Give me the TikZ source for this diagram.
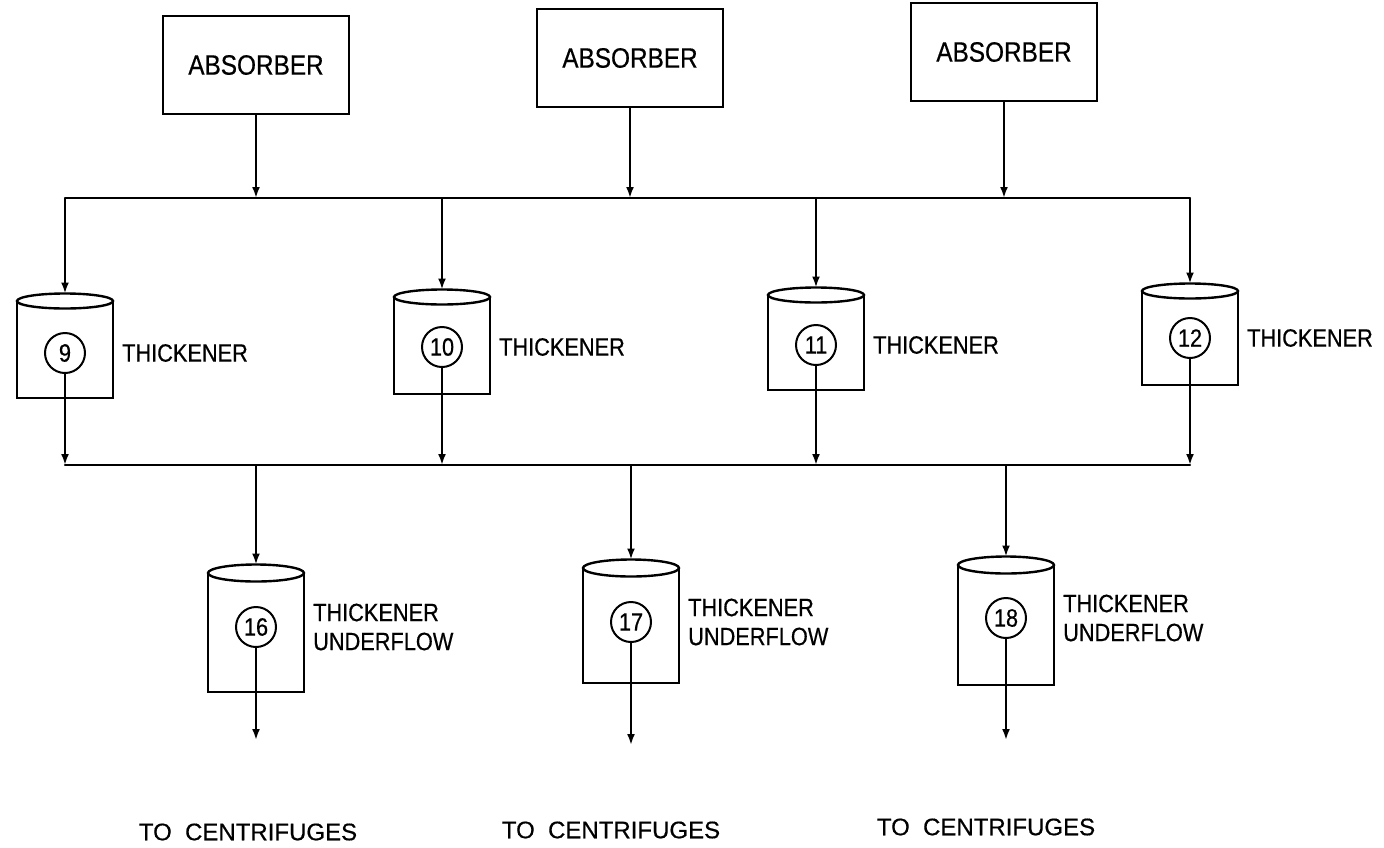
\documentclass[tikz,border=0pt]{standalone}
\usepackage{fontspec}
\setmainfont{Liberation Sans}
\newfontfamily\condfont{Liberation Sans}[FakeStretch=0.87,FakeBold=0.5]
\newfontfamily\widefont{Liberation Sans}[FakeBold=0.5]
\usetikzlibrary{arrows.meta}
\tikzset{
  ln/.style={line width=2.4pt, line cap=round},
  flow/.style={line width=2.4pt, -{Latex[length=11pt,width=8pt]}},
  absorber/.style={draw, line width=2.4pt, minimum width=186pt, minimum height=98pt,
    inner sep=0pt, font=\condfont\fontsize{28}{30}\selectfont},
  tanklabel/.style={anchor=west, inner sep=0pt, align=left, font=\condfont\fontsize{25}{29}\selectfont},
  num/.style={draw, circle, line width=2pt, minimum size=40pt, inner sep=0pt,
    font=\condfont\fontsize{25}{26}\selectfont},
  tank/.style={line width=2.4pt},
  dest/.style={inner sep=0pt, font=\widefont\fontsize{24}{26}\selectfont}
}
\begin{document}
\begin{tikzpicture}[x=1pt,y=-1pt]
\fill[white] (0,0) rectangle (1384,847);
\path[use as bounding box] (0,0) rectangle (1384,847);

% absorbers
\node[absorber] (a1) at (256,65) {ABSORBER};
\node[absorber] (a2) at (630,58) {ABSORBER};
\node[absorber] (a3) at (1004,52) {ABSORBER};
\coordinate (j1) at (256,198);
\coordinate (j2) at (630,198);
\coordinate (j3) at (1004,198);

% upper thickeners
\foreach \n/\x/\ye/\yb/\yc in {9/65/301/398/353, 10/442/297/394/347, 11/816/295/390/345, 12/1190/291/385/338}{
  \draw[tank] (\x-48,\ye) -- (\x-48,\yb) -- (\x+48,\yb) -- (\x+48,\ye);
  \draw[tank] (\x,\ye) ellipse [x radius=48, y radius=7.5];
  \coordinate (top\n) at (\x,\ye-7.5);
  \node[num] (c\n) at (\x,\yc) {\n};
  \node[tanklabel] (l\n) at (\x+57,\yc) {THICKENER};
  \coordinate (in\n) at (\x,198);
  \coordinate (out\n) at (\x,465);
}

% headers
\draw[ln] (in9) -- (in12);
\draw[ln] (out9) -- (out12);

\draw[flow] (a1.south) -- (j1);
\draw[flow] (a2.south) -- (j2);
\draw[flow] (a3.south) -- (j3);

\foreach \n in {9,10,11,12}{
  \draw[flow] (in\n) -- (top\n);
  \draw[flow] (c\n) -- (out\n);
}

% lower thickener underflow tanks
\foreach \n/\x/\ye/\yb/\yc/\ya/\tc/\dy in {16/256/573/692/627/740/248/832, 17/631/568/683/622/745/611/830, 18/1006/565/685/618/740/986/827}{
  \draw[tank] (\x-48,\ye) -- (\x-48,\yb) -- (\x+48,\yb) -- (\x+48,\ye);
  \draw[tank] (\x,\ye) ellipse [x radius=48, y radius=8.5];
  \coordinate (top\n) at (\x,\ye-8.5);
  \node[num] (c\n) at (\x,\yc) {\n};
  \node[tanklabel] (l\n) at (\x+57,\yc) {THICKENER\\UNDERFLOW};
  \coordinate (in\n) at (\x,465);
  \coordinate (end\n) at (\x,\ya);
  \node[dest] (d\n) at (\tc,\dy) {TO\ \ CENTRIFUGES};
  \draw[flow] (in\n) -- (top\n);
  \draw[flow] (c\n) -- (end\n);
}
\end{tikzpicture}
\end{document}
